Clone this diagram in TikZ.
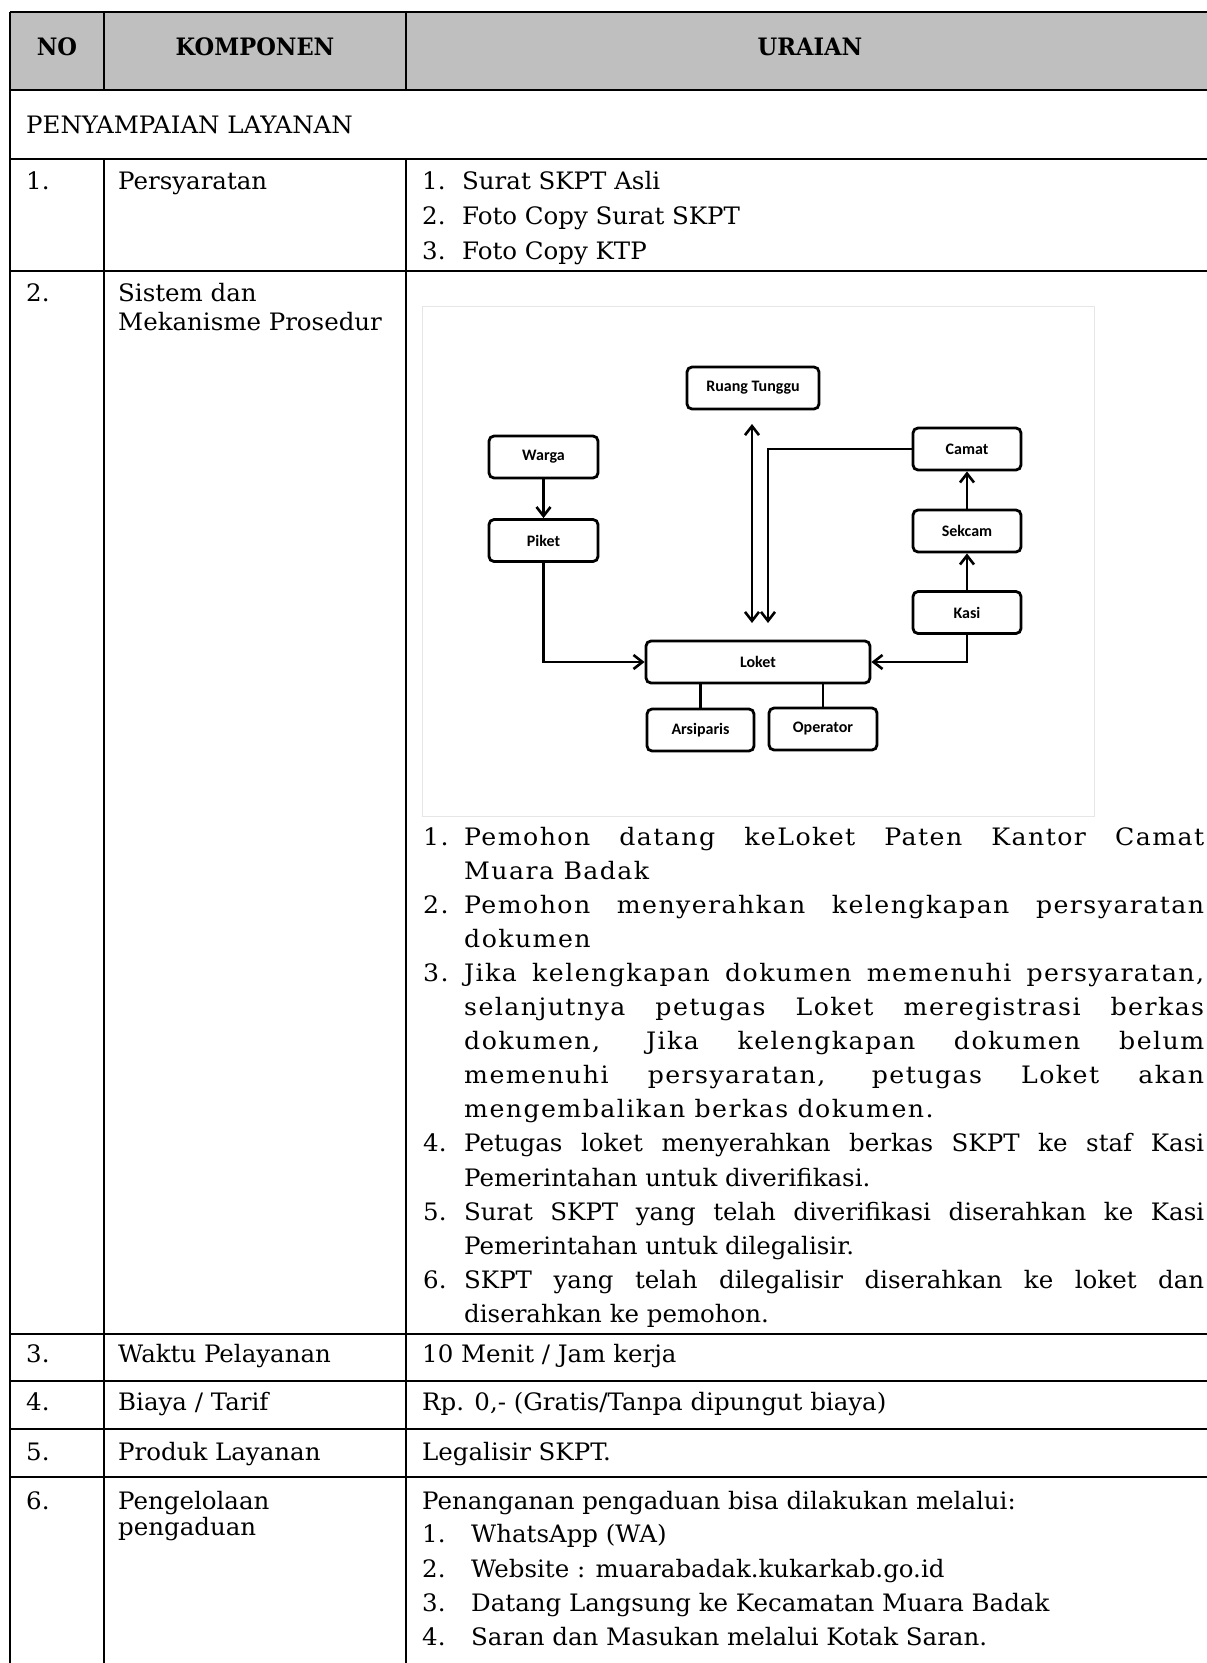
\documentclass[tikz,border=0pt]{standalone}
\usepackage{fontspec}
\setmainfont{DejaVu Serif}[FakeStretch=1.02]
\newfontfamily\widefont{DejaVu Serif}[FakeStretch=1.05,LetterSpace=6]
\newfontfamily\hdrfont{DejaVu Serif}[FakeStretch=0.94]
\newfontfamily\diagfont{Carlito}
\usetikzlibrary{arrows.meta}
\definecolor{hdr}{HTML}{BFBFBF}
\definecolor{frm}{HTML}{E6E6E6}
\newcommand\bodysize{\fontsize{24}{28}\selectfont}
\begin{document}
\begin{tikzpicture}[x=1pt,y=-1pt,
  tline/.style={line width=2.5pt,black},
  txt/.style={anchor=base west,inner sep=0pt,font=\bodysize},
  wtxt/.style={anchor=base west,inner sep=0pt,font=\widefont\bodysize},
  htxt/.style={anchor=base,inner sep=0pt,font=\hdrfont\bodysize\bfseries},
  dbox/.style={draw,line width=2.8pt,rounded corners=5pt,inner sep=0pt,
    font=\diagfont\bfseries\fontsize{16}{18}\selectfont,minimum height=42pt},
  arr/.style={line width=2.6pt,-{Straight Barb[length=9pt,width=14pt]}},
  arrb/.style={line width=2.6pt,{Straight Barb[length=9pt,width=14pt]}-{Straight Barb[length=9pt,width=14pt]}},
  plain/.style={line width=2.6pt}]
\useasboundingbox (0,0) rectangle (1207,1663);
% header
\fill[hdr] (10,12) rectangle (1207,90);
\foreach \yy in {12,90,159,271,1334,1381,1429,1477}
  \draw[tline] (10,\yy) -- (1207,\yy);
\draw[tline] (10,12) -- (10,1663);
\draw[tline] (104,12) -- (104,90);
\draw[tline] (406,12) -- (406,90);
\draw[tline] (104,159) -- (104,1663);
\draw[tline] (406,159) -- (406,1663);
\node[htxt] (hno) at (57,55) {NO};
\node[htxt] (hkomp) at (255,55) {KOMPONEN};
\node[htxt] (hur) at (810,55) {URAIAN};
\node[txt] (peny) at (26,133) {PENYAMPAIAN LAYANAN};
% row 1
\node[txt] (n1) at (26,189) {1.};
\node[txt] (k1) at (118,189) {Persyaratan};
\node[txt] (r1a) at (422,189) {1.};
\node[txt] (r1b) at (462,189) {Surat SKPT Asli};
\node[txt] (r1c) at (422,224) {2.};
\node[txt] (r1d) at (462,224) {Foto Copy Surat SKPT};
\node[txt] (r1e) at (422,259) {3.};
\node[txt] (r1f) at (462,259) {Foto Copy KTP};
% row 2
\node[txt] (n2) at (26,301) {2.};
\node[txt] (k2a) at (118,301) {Sistem dan};
\node[txt] (k2b) at (118,330) {Mekanisme Prosedur};
% image frame
\draw[frm,line width=1pt] (422,306) rectangle (1094,816);
% diagram
\node[dbox,minimum width=132pt] (ruang) at (753,388) {Ruang Tunggu};
\node[dbox,minimum width=109pt] (warga) at (543.5,457) {Warga};
\node[dbox,minimum width=109pt] (piket) at (543.5,540.5) {Piket};
\node[dbox,minimum width=108pt] (camat) at (967,449) {Camat};
\node[dbox,minimum width=108pt] (sekcam) at (967,531) {Sekcam};
\node[dbox,minimum width=108pt] (kasi) at (967,612.5) {Kasi};
\node[dbox,minimum width=224pt] (loket) at (758,662) {Loket};
\node[dbox,minimum width=107pt] (arsip) at (700.5,730) {Arsiparis};
\node[dbox,minimum width=108pt] (oper) at (823,729) {Operator};
\coordinate (utop) at (752,424);
\coordinate (ubot) at (752,623);
\coordinate (cbot) at (768,623);
\draw[arr] (warga.south) -- (piket.north);
\draw[arr] (piket.south) |- (loket.west);
\draw[arr] (kasi.south) |- (loket.east);
\draw[arr] (kasi.north) -- (sekcam.south);
\draw[arr] (sekcam.north) -- (camat.south);
\draw[arrb] (ubot) -- (utop);
\draw[arr] (camat.west) -| (cbot);
\draw[plain] (arsip.north) -- (arsip.north |- loket.south);
\draw[plain] (oper.north) -- (oper.north |- loket.south);
% steps
\node[wtxt] (s1n) at (423,845) {1.};
\node[wtxt] (s1) at (464,845) {\makebox[740pt][s]{Pemohon datang keLoket Paten Kantor Camat}};
\node[wtxt] (s1b) at (464,879.1) {Muara Badak};
\node[wtxt] (s2n) at (423,913.2) {2.};
\node[wtxt] (s2) at (464,913.2) {\makebox[740pt][s]{Pemohon menyerahkan kelengkapan persyaratan}};
\node[wtxt] (s2b) at (464,947.3) {dokumen};
\node[wtxt] (s3n) at (423,981.4) {3.};
\node[wtxt] (s3) at (464,981.4) {\makebox[740pt][s]{Jika kelengkapan dokumen memenuhi persyaratan,}};
\node[wtxt] (s3b) at (464,1015.5) {\makebox[740pt][s]{selanjutnya petugas Loket meregistrasi berkas}};
\node[wtxt] (s3c) at (464,1049.6) {\makebox[740pt][s]{dokumen, Jika kelengkapan dokumen belum}};
\node[wtxt] (s3d) at (464,1083.7) {\makebox[740pt][s]{memenuhi persyaratan, petugas Loket akan}};
\node[wtxt] (s3e) at (464,1117.8) {mengembalikan berkas dokumen.};
\node[txt] (s4n) at (423,1151.9) {4.};
\node[txt] (s4) at (464,1151.9) {\makebox[740pt][s]{Petugas loket menyerahkan berkas SKPT ke staf Kasi}};
\node[txt] (s4b) at (464,1186) {Pemerintahan untuk diverifikasi.};
\node[txt] (s5n) at (423,1220.1) {5.};
\node[txt] (s5) at (464,1220.1) {\makebox[740pt][s]{Surat SKPT yang telah diverifikasi diserahkan ke Kasi}};
\node[txt] (s5b) at (464,1254.2) {Pemerintahan untuk dilegalisir.};
\node[txt] (s6n) at (423,1288.3) {6.};
\node[txt] (s6) at (464,1288.3) {\makebox[740pt][s]{SKPT yang telah dilegalisir diserahkan ke loket dan}};
\node[txt] (s6b) at (464,1322.4) {diserahkan ke pemohon.};
% rows 3-5
\node[txt] (n3) at (26,1362) {3.};
\node[txt] (k3) at (118,1362) {Waktu Pelayanan};
\node[txt] (u3) at (422,1362) {10 Menit / Jam kerja};
\node[txt] (n4) at (26,1410) {4.};
\node[txt] (k4) at (118,1410) {Biaya / Tarif};
\node[txt] (u4) at (422,1410) {Rp. 0,- (Gratis/Tanpa dipungut biaya)};
\node[txt] (n5) at (26,1460) {5.};
\node[txt] (k5) at (118,1460) {Produk Layanan};
\node[txt] (u5) at (422,1460) {Legalisir SKPT.};
% row 6
\node[txt] (n6) at (26,1509) {6.};
\node[txt] (k6a) at (118,1509) {Pengelolaan};
\node[txt] (k6b) at (118,1535) {pengaduan};
\node[txt] (u6) at (422,1509) {Penanganan pengaduan bisa dilakukan melalui:};
\node[txt] (u6an) at (422,1542) {1.};
\node[txt] (u6a) at (471,1542) {WhatsApp (WA)};
\node[txt] (u6bn) at (422,1577) {2.};
\node[txt] (u6b) at (471,1577) {Website : muarabadak.kukarkab.go.id};
\node[txt] (u6cn) at (422,1611) {3.};
\node[txt] (u6c) at (471,1611) {Datang Langsung ke Kecamatan Muara Badak};
\node[txt] (u6dn) at (422,1645) {4.};
\node[txt] (u6d) at (471,1645) {Saran dan Masukan melalui Kotak Saran.};
\end{tikzpicture}
\end{document}
